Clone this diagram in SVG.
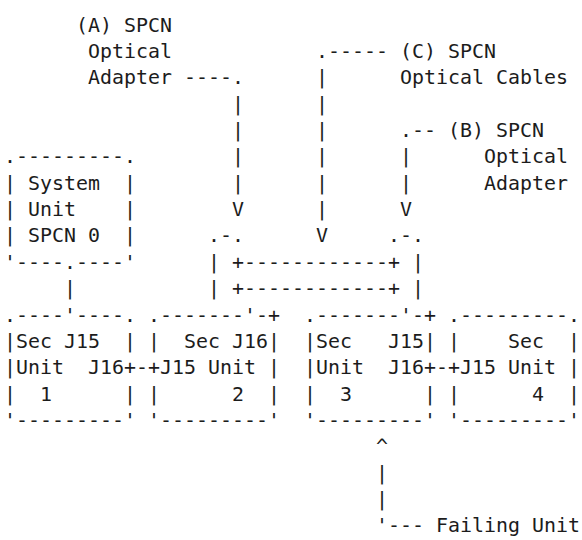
<svg xmlns="http://www.w3.org/2000/svg" width="582" height="540" viewBox="0 0 582 540" xml:space="preserve">
<style>
text { font-family: "DejaVu Sans Mono", "Liberation Mono", monospace; font-size: 19.93px; fill: #1c1c1c; white-space: pre; }
</style>
<rect width="582" height="540" fill="#ffffff"/>
<g id="label-a">
<text x="76" y="31.5">(A) SPCN</text>
<text x="88" y="58">Optical</text>
<text x="88" y="84">Adapter</text>
</g>
<g id="label-c">
<text x="400" y="58">(C) SPCN</text>
<text x="400" y="84">Optical Cables</text>
</g>
<g id="label-b">
<text x="448" y="137">(B) SPCN</text>
<text x="484" y="163">Optical</text>
<text x="484" y="189.5">Adapter</text>
</g>
<g id="system-unit">
<text x="4" y="163">.---------.</text>
<text x="4" y="189.5">| System  |</text>
<text x="4" y="216">| Unit    |</text>
<text x="4" y="242">| SPCN 0  |</text>
<text x="4" y="268.5">'----.----'</text>
</g>
<g id="cable-loop">
<text x="208" y="242">.-.</text>
<text x="388" y="242">.-.</text>
<text x="208" y="268.5">| +------------+ |</text>
<text x="208" y="295">| +------------+ |</text>
</g>
<g id="unit-1">
<text x="4" y="321.5">.----'----.</text>
<text x="4" y="347.5">|Sec J15  |</text>
<text x="4" y="374">|Unit  J16+</text>
<text x="4" y="400.5">|  1      |</text>
<text x="4" y="427">'---------'</text>
</g>
<g id="unit-2">
<text x="148" y="321.5">.-------'-+</text>
<text x="148" y="347.5">|  Sec J16|</text>
<text x="148" y="374">+J15 Unit |</text>
<text x="148" y="400.5">|      2  |</text>
<text x="148" y="427">'---------'</text>
</g>
<g id="unit-3">
<text x="304" y="321.5">.-------'-+</text>
<text x="304" y="347.5">|Sec   J15|</text>
<text x="304" y="374">|Unit  J16+</text>
<text x="304" y="400.5">|  3      |</text>
<text x="304" y="427">'---------'</text>
</g>
<g id="unit-4">
<text x="448" y="321.5">.---------.</text>
<text x="448" y="347.5">|    Sec  |</text>
<text x="448" y="374">+J15 Unit |</text>
<text x="448" y="400.5">|      4  |</text>
<text x="448" y="427">'---------'</text>
</g>
<g id="failing-label">
<text x="436" y="532">Failing Unit</text>
</g>
<g id="connectors">
<text x="184" y="84">----.</text>
<text x="232" y="110.5">|</text>
<text x="232" y="137">|</text>
<text x="232" y="163">|</text>
<text x="232" y="189.5">|</text>
<text x="232" y="216">V</text>
<text x="316" y="58">.-----</text>
<text x="316" y="84">|</text>
<text x="316" y="110.5">|</text>
<text x="316" y="137">|</text>
<text x="316" y="163">|</text>
<text x="316" y="189.5">|</text>
<text x="316" y="216">|</text>
<text x="316" y="242">V</text>
<text x="400" y="137">.--</text>
<text x="400" y="163">|</text>
<text x="400" y="189.5">|</text>
<text x="400" y="216">V</text>
<text x="64" y="295">|</text>
<text x="136" y="374">-</text>
<text x="436" y="374">-</text>
<text x="376" y="453">^</text>
<text x="376" y="479.5">|</text>
<text x="376" y="506">|</text>
<text x="376" y="532">'---</text>
</g>
</svg>
